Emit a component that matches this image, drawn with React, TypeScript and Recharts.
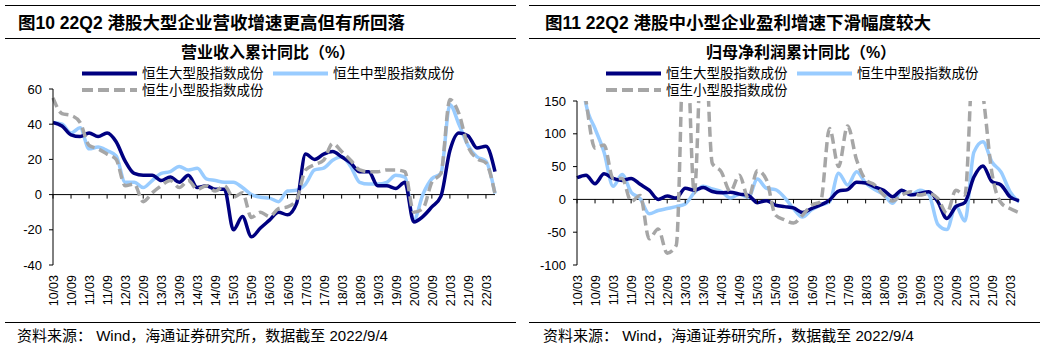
import React from "react";
import { LineChart, Line, XAxis, YAxis, ReferenceLine } from "recharts";

const dates = [
  "10/03", "10/06", "10/09", "10/12", "11/03", "11/06", "11/09", "11/12",
  "12/03", "12/06", "12/09", "12/12", "13/03", "13/06", "13/09", "13/12",
  "14/03", "14/06", "14/09", "14/12", "15/03", "15/06", "15/09", "15/12",
  "16/03", "16/06", "16/09", "16/12", "17/03", "17/06", "17/09", "17/12",
  "18/03", "18/06", "18/09", "18/12", "19/03", "19/06", "19/09", "19/12",
  "20/03", "20/06", "20/09", "20/12", "21/03", "21/06", "21/09", "21/12",
  "22/03", "22/06",
];

// 营业收入累计同比（%）
const revLarge = [
  41, 39, 34, 33, 35, 33, 35, 30, 19, 12,
  11, 11, 8, 10, 7, 11, 4, 5, 3, 3,
  -20, -12.5, -24, -19, -14.5, -10, -11.5, -5, 23, 20,
  23, 24.5, 21.5, 18, 13, 13, 5, 5, 3.5, 7,
  -15.5, -12.5, -7, -1, 25, 35, 33.5, 26.5, 27.5, 13,
];
const revMedium = [
  41, 40, 35, 38, 26, 27, 25, 22, 7, 7,
  4, 8, 12, 13, 16, 14, 15, 9, 8, 7,
  7, 4, 0, -1.5, -2, -4, 2, 2.5, 6, 14,
  15, 19.5, 21.5, 16, 7, 6, 6, 7, 11, 10,
  -14.5, 0, 9, 12, 51, 40, 28, 21.5, 19, 0.5,
];
const revSmall = [
  55, 46, 45, 41, 28, 26, 23, 20, 5, 6,
  -4, 1, 5, 8, 4, 8, 3, 5, 2, 5,
  -1.5, 1, -13, -10, -12.5, -8, -7, -3, 14, 17,
  19.5, 29, 24.5, 19.5, 14, 13, 13, 14, 14, 13,
  -10, -8, 7, 12, 54, 46, 27.5, 20.5, 18, 0.5,
];

// 归母净利润累计同比（%）
const profLarge = [
  33, 37, 24, 39, 32, 29, 32, 23, 14, 0,
  5, 2, 17, 14, 18, 12, 10, 11, 8, 6,
  -5, -2, -8.6, -11, -13, -20, -14, -8.6, -1, 12.7,
  15, 26, 25, 19, 14, 4, 14, 7, 9, 11.7,
  -3.5, -29, -11, -4.6, 34, 51, 27, 22, 4, -2,
];
const profMedium = [
  250, 145, 108, 72, 20, 38, 11, 1, -22, -17,
  -14, -11, -7, 10, 20, 16, 12, 2, 8, 3,
  31, 17, 15, 3, -14, -27, -16, -8.6, -3.5, 40,
  22, 42, 25, 15, 7.6, -6, 14, 6.6, 14, 7.6,
  -38, -46, -10, -33, 72, 88, 57, 42, 12, -4,
];
const profSmall = [
  250, 150, 78, 83, 32, 32, -3, 6, -60, -45,
  -82, -70, 300, 10, 300, 55, 42, 12, 37, 2,
  44, 30, -24, -31, -36, -24, -9, -3.5, 108, 50,
  112, 60, 30, 22, 6.6, -2.5, 6.6, 11.7, 6.6, 9,
  1.5, -21, 14, 6.6, 230, 160, 40, -5, -14, -20,
];

const seriesNames = ["恒生大型股指数成份", "恒生中型股指数成份", "恒生小型股指数成份"];

const NAVY = "#000080";
const LIGHT = "#99CCFF";
const GRAY = "#A6A6A6";
const FONT = '"Liberation Sans", Arial, "Noto Sans CJK SC", sans-serif';

const W = 524;
const H = 348;
const PLOT_BOTTOM = 265;
const PLOT_LEFT = 53;
const PLOT_RIGHT = 495;

type PanelProps = {
  title: string;
  subtitle: string;
  subtitleCenter: number;
  titleLeft: number;
  sourceLeft: number;
  large: number[];
  medium: number[];
  small: number[];
  domain: [number, number];
  ticks: number[];
  top: number;
};

function Panel(p: PanelProps) {
  const data = dates.map((d, i) => ({
    d,
    large: p.large[i],
    medium: p.medium[i],
    small: p.small[i],
  }));
  const zeroY =
    p.top + (p.domain[1] / (p.domain[1] - p.domain[0])) * (PLOT_BOTTOM - p.top);

  const XTick = (props: any) => {
    const { x, payload } = props;
    const ly = PLOT_BOTTOM + 10;
    return (
      <g>
        <line x1={x} x2={x} y1={zeroY} y2={zeroY + 4} stroke="#000" strokeWidth={1} />
        <text
          x={x + 1}
          y={ly}
          transform={`rotate(-90 ${x + 1} ${ly})`}
          textAnchor="end"
          dominantBaseline="central"
          fontSize={12.5}
          fontFamily={FONT}
          fill="#000"
        >
          {payload.value}
        </text>
      </g>
    );
  };

  const legendItem = (x: number, y: number, color: string, name: string, dashed?: boolean) => (
    <g>
      <line
        x1={x}
        x2={x + 55}
        y1={y}
        y2={y}
        stroke={color}
        strokeWidth={4}
        strokeDasharray={dashed ? "11 5" : undefined}
      />
      <text x={x + 60} y={y} dominantBaseline="central" fontSize={13.5} fontFamily={FONT} fill="#000">
        {name}
      </text>
    </g>
  );

  return (
    <div style={{ position: "relative", width: W, height: H, fontFamily: FONT }}>
      <div style={{ position: "absolute", left: 5, top: 5, width: 511, borderTop: "1.3px solid #000" }} />
      <div
        style={{
          position: "absolute",
          left: p.titleLeft,
          top: 12,
          fontSize: 17.5,
          fontWeight: 700,
          lineHeight: "22px",
          whiteSpace: "nowrap",
          color: "#000",
        }}
      >
        {p.title}
      </div>
      <div style={{ position: "absolute", left: 5, top: 38, width: 511, borderTop: "1.3px solid #000" }} />
      <div
        style={{
          position: "absolute",
          left: p.subtitleCenter - 150,
          width: 300,
          top: 42,
          textAlign: "center",
          fontSize: 16,
          fontWeight: 700,
          lineHeight: "22px",
          whiteSpace: "nowrap",
          color: "#000",
        }}
      >
        {p.subtitle}
      </div>
      <div style={{ position: "absolute", left: 0, top: 0 }}>
        <LineChart
          width={W}
          height={H}
          data={data}
          margin={{ top: p.top, right: W - PLOT_RIGHT, bottom: 20, left: 0 }}
        >
          <XAxis
            dataKey="d"
            interval={1}
            axisLine={false}
            tickLine={false}
            height={H - PLOT_BOTTOM - 20}
            tick={<XTick />}
          />
          <YAxis
            width={PLOT_LEFT}
            domain={p.domain}
            ticks={p.ticks}
            allowDataOverflow
            axisLine={{ stroke: "#000", strokeWidth: 1 }}
            tickLine={{ stroke: "#000", strokeWidth: 1 }}
            tickSize={4}
            tickMargin={7}
            tick={{ fontSize: 13, fill: "#000", fontFamily: FONT }}
          />
          <ReferenceLine y={0} stroke="#000" strokeWidth={1} />
          <Line
            type="monotone"
            dataKey="medium"
            name={seriesNames[1]}
            stroke={LIGHT}
            strokeWidth={3.5}
            dot={false}
            isAnimationActive={false}
          />
          <Line
            type="monotone"
            dataKey="large"
            name={seriesNames[0]}
            stroke={NAVY}
            strokeWidth={3.5}
            dot={false}
            isAnimationActive={false}
          />
          <Line
            type="monotone"
            dataKey="small"
            name={seriesNames[2]}
            stroke={GRAY}
            strokeWidth={3.5}
            strokeDasharray="10 5"
            dot={false}
            isAnimationActive={false}
          />
        </LineChart>
      </div>
      <svg style={{ position: "absolute", left: 0, top: 0 }} width={W} height={100}>
        {legendItem(82, 73.5, NAVY, seriesNames[0])}
        {legendItem(273, 73.5, LIGHT, seriesNames[1])}
        {legendItem(82, 90, GRAY, seriesNames[2], true)}
      </svg>
      <div style={{ position: "absolute", left: 5, top: 322, width: 511, borderTop: "1.3px solid #000" }} />
      <div
        style={{
          position: "absolute",
          left: p.sourceLeft,
          top: 325,
          fontSize: 15,
          lineHeight: "22px",
          whiteSpace: "nowrap",
          color: "#000",
        }}
      >
        资料来源： Wind，海通证券研究所，数据截至 2022/9/4
      </div>
    </div>
  );
}

export default function App() {
  return (
    <div
      style={{
        position: "absolute",
        left: 0,
        top: 0,
        width: 1048,
        height: 348,
        background: "#fff",
        display: "flex",
      }}
    >
      <Panel
        title="图10 22Q2 港股大型企业营收增速更高但有所回落"
        subtitle="营业收入累计同比（%）"
        subtitleCenter={268}
        titleLeft={18}
        sourceLeft={17}
        large={revLarge}
        medium={revMedium}
        small={revSmall}
        domain={[-40, 60]}
        ticks={[-40, -20, 0, 20, 40, 60]}
        top={89}
      />
      <Panel
        title="图11 22Q2 港股中小型企业盈利增速下滑幅度较大"
        subtitle="归母净利润累计同比（%）"
        subtitleCenter={277}
        titleLeft={21}
        sourceLeft={19}
        large={profLarge}
        medium={profMedium}
        small={profSmall}
        domain={[-100, 150]}
        ticks={[-100, -50, 0, 50, 100, 150]}
        top={101}
      />
    </div>
  );
}
